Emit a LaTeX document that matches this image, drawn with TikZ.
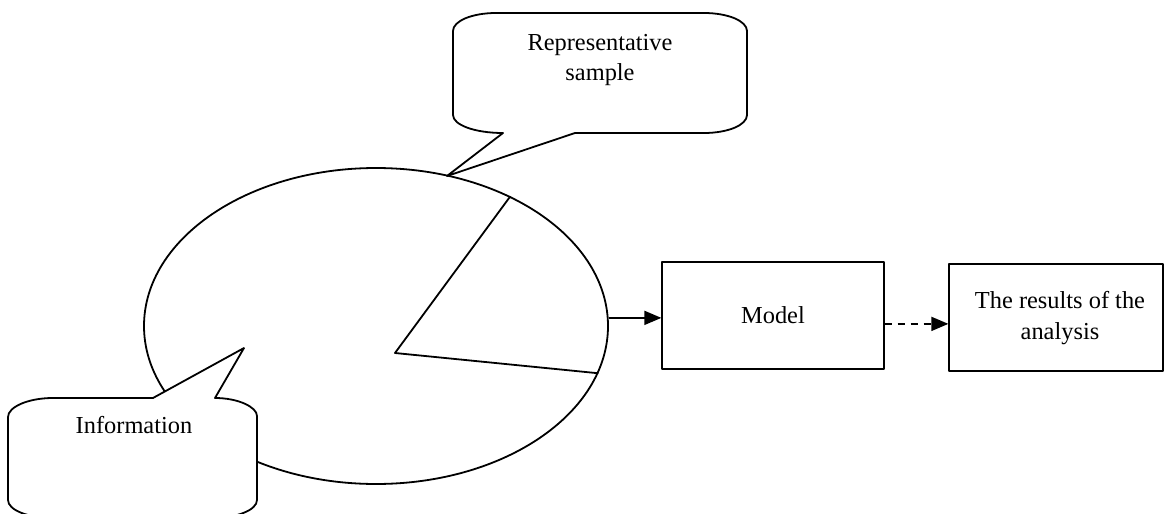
\documentclass[tikz,border=0pt]{standalone}
\usepackage{fontspec}
\setmainfont{Liberation Serif}
\usetikzlibrary{shapes.geometric,arrows.meta}

\begin{document}
\begin{tikzpicture}[x=0.5pt,y=-0.5pt,line join=round,
  txt/.style={font=\fontsize{12.2}{15.3}\selectfont, align=center, inner sep=0pt},
  box/.style={draw, line width=0.65pt, inner sep=0pt},
  bubble/.style={draw, fill=white, line width=0.9pt},
  tip/.style={-{Triangle[length=8.5pt,width=7pt]}, line width=0.9pt}]
%
% picture frame (pixels of the original, y going down)
%
\useasboundingbox (0,0) rectangle (1168,514);
\clip (0,0) rectangle (1168,514);

% draw population with the sample sector

\node[draw, ellipse, line width=0.9pt, minimum width=232pt, minimum height=158pt, inner sep=0pt] (pop) at (376,326) {};
\coordinate (hub) at (395,353);
\draw[line width=0.9pt] (pop.44) -- (hub) -- (pop.-12);

% draw callouts

\draw[bubble] (447,176) -- (575,133) -- (704,133)
  .. controls (728,133) and (747,125) .. (747,115) -- (747,31)
  .. controls (747,21) and (728,13) .. (704,13) -- (496,13)
  .. controls (472,13) and (453,21) .. (453,31) -- (453,115)
  .. controls (453,125) and (475,133) .. (503,133) -- cycle;
\node[txt] (sampletxt) at (600,60) {Representative\\sample};

\draw[bubble] (244,348) -- (215,398)
  .. controls (238,398) and (257,407) .. (257,416) -- (257,500)
  .. controls (257,510) and (237,518) .. (212,518) -- (53,518)
  .. controls (28,518) and (8,510) .. (8,500) -- (8,417)
  .. controls (8,407) and (28,398) .. (53,398) -- (153,398) -- cycle;
\node[txt, anchor=base] (infotxt) at (134,433) {Information};

% draw model and results

\node[box, minimum width=111pt, minimum height=53.5pt] (model) at (773,315.5) {};
\node[txt, anchor=base] (modeltxt) at (773,323) {Model};

\node[box, minimum width=107pt, minimum height=53.5pt] (results) at (1056,317.5) {};
\node[txt] (resultstxt) at (1060,318) {The results of the\\analysis};

\draw[tip] (pop.2) -- (pop.2 -| model.west);
\draw[tip, dash pattern=on 3.5pt off 3pt] ([yshift=-4.2pt]model.east) -- ([yshift=-4.2pt]model.east -| results.west);

\end{tikzpicture}
\end{document}
